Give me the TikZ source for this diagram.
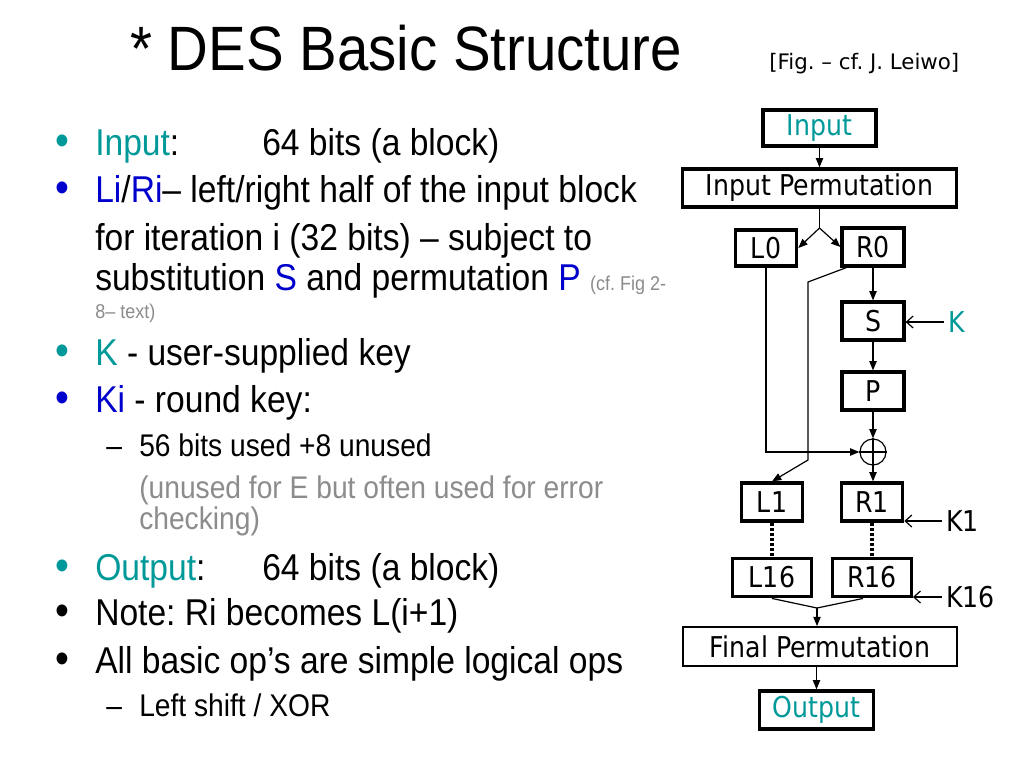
\documentclass[tikz,border=0pt]{standalone}
\usepackage{fontspec}
\setmainfont{Liberation Sans}[FakeStretch=0.9]
\newfontfamily\boxfont{DejaVu Sans}[FakeStretch=0.88]
\newfontfamily\citefont{DejaVu Sans}
\usepackage{tikz}
\usetikzlibrary{calc,arrows.meta}
\frenchspacing
\definecolor{bg}{HTML}{FFFFFF}
\definecolor{ink}{HTML}{000000}
\definecolor{tealc}{HTML}{009999}
\definecolor{bluec}{HTML}{0000CC}
\definecolor{grayc}{HTML}{8C8C8C}
\tikzset{
  box/.style={draw=ink, line width=2.4pt, inner sep=0pt, font=\boxfont\fontsize{21.5}{26}\selectfont},
  arr/.style={draw=ink, line width=0.9pt, -{Triangle[length=7pt,width=5.5pt]}},
  keyarr/.style={draw=ink, line width=0.9pt, -{Straight Barb[length=5pt,width=9pt]}},
  dots/.style={draw=ink, line width=2.8pt, dash pattern=on 2.2pt off 1.6pt},
  ln/.style={draw=ink, line width=0.9pt},
  body/.style={anchor=base west, inner sep=0pt, font=\fontsize{28}{34}\selectfont},
  sub/.style={anchor=base west, inner sep=0pt, font=\fontsize{23.5}{28}\selectfont},
  bul/.style={anchor=base west, inner sep=0pt, font=\fontsize{33}{38}\selectfont},
  keylab/.style={anchor=west, inner sep=3pt, text=ink, font=\boxfont\fontsize{21.5}{26}\selectfont},
}

\begin{document}
\begin{tikzpicture}[x=0.75pt,y=-0.75pt]
  \useasboundingbox (0,0) rectangle (1024,768);
  \fill[bg] (0,0) rectangle (1024,768);

  % title
  \node[anchor=base west, inner sep=0pt, font=\fontsize{47}{56}\selectfont] (title) at (130,70) {* DES Basic Structure};
  \node[anchor=base west, inner sep=0pt, font=\citefont\fontsize{16}{20}\selectfont] (cite) at (769,69) {[Fig. – cf. J. Leiwo]};

  % bullet text
  \node[bul, text=tealc] (b1) at (55,155) {\textbullet};
  \node[body] (t1) at (95,155) {\textcolor{tealc}{Input}:};
  \node[body] (t1v) at (262,155) {64 bits (a block)};
  \node[bul, text=bluec] (b2) at (55,202) {\textbullet};
  \node[body] (t2) at (95,202) {\textcolor{bluec}{Li}/\textcolor{bluec}{Ri}– left/right half of the input block};
  \node[body] (t3) at (95,250) {for iteration i (32 bits) – subject to};
  \node[body] (t4) at (95,290) {substitution \textcolor{bluec}{S} and permutation \textcolor{bluec}{P} {\fontsize{15}{18}\selectfont\color{grayc}(cf. Fig 2-}};
  \node[body, font=\fontsize{15}{18}\selectfont, text=grayc] (t5) at (95,318) {8– text)};
  \node[bul, text=tealc] (b3) at (55,365) {\textbullet};
  \node[body] (t6) at (95,365) {\textcolor{tealc}{K} - user-supplied key};
  \node[bul, text=bluec] (b4) at (55,412) {\textbullet};
  \node[body] (t7) at (95,412) {\textcolor{bluec}{Ki} - round key:};
  \node[sub] (d1) at (106,456) {–};
  \node[sub] (t8) at (139,456) {56 bits used +8 unused};
  \node[sub, text=grayc] (t9) at (139,498) {(unused for E but often used for error};
  \node[sub, text=grayc] (t10) at (139,529) {checking)};
  \node[bul, text=tealc] (b5) at (55,580) {\textbullet};
  \node[body] (t11) at (95,580) {\textcolor{tealc}{Output}:};
  \node[body] (t11v) at (262,580) {64 bits (a block)};
  \node[bul] (b6) at (55,625) {\textbullet};
  \node[body] (t12) at (95,625) {Note: Ri becomes L(i+1)};
  \node[bul] (b7) at (55,673) {\textbullet};
  \node[body] (t13) at (95,673) {All basic op’s are simple logical ops};
  \node[sub] (d2) at (106,716) {–};
  \node[sub] (t14) at (139,716) {Left shift / XOR};

  % boxes
  \node[box, minimum width=84.75pt, minimum height=27pt, text=tealc] (inp) at (819.5,128) {Input};
  \node[box, minimum width=206pt, minimum height=28.5pt] (ip) at (819.5,188) {Input Permutation};
  \node[box, minimum width=46pt, minimum height=27pt] (L0) at (766,248) {L0};
  \node[box, minimum width=46.5pt, minimum height=28.5pt] (R0) at (873,247) {R0};
  \node[box, minimum width=46.5pt, minimum height=28.5pt] (S) at (873,321) {S};
  \node[box, minimum width=46.5pt, minimum height=28.5pt] (P) at (873,391) {P};
  \node[circle, draw=ink, line width=0.9pt, minimum size=19.5pt, inner sep=0pt] (xor) at (873,452) {};
  \node[box, minimum width=46pt, minimum height=28.5pt] (L1) at (772,502) {L1};
  \node[box, minimum width=46pt, minimum height=28.5pt] (R1) at (872,502) {R1};
  \node[box, minimum width=59pt, minimum height=29pt] (L16) at (772,577.5) {L16};
  \node[box, minimum width=59pt, minimum height=29pt] (R16) at (872,577.5) {R16};
  \node[box, line width=1.6pt, minimum width=205.5pt, minimum height=29pt] (fp) at (820,646.5) {Final Permutation};
  \node[box, minimum width=85pt, minimum height=28.5pt, text=tealc] (out) at (816.5,710) {Output};

  % keys
  \node[keylab, text=tealc] (K) at (944,322) {K};
  \node[keylab] (K1) at (942,521) {K1};
  \node[keylab] (K16) at (942,597) {K16};

  \coordinate (split) at (819.5,228);
  \coordinate (c1) at (808,282);
  \coordinate (c2) at (808,460);
  \coordinate (mrg) at (817,608);

  % connectors
  \draw[arr] (inp) -- (ip);
  \draw[ln] (ip) -- (split);
  \draw[arr] (split) -- (L0.east);
  \draw[arr] (split) -- (R0.west);
  \draw[arr] (R0) -- (S);
  \draw[arr] (S) -- (P);
  \draw[arr] (P) -- (xor);
  \draw[ln] (xor.north) -- (xor.south) (xor.west) -- (xor.east);
  \draw[arr] (L0.south) |- (xor.west);
  \draw[arr] ($(R0.south west)+(6,0)$) -- (c1) -- (c2) -- (L1.north);
  \draw[arr] (xor.south) -- (xor.south |- R1.north);
  \draw[keyarr] (K.west) -- (K.west -| S.east);
  \draw[keyarr] (K1.west) -- (K1.west -| R1.east);
  \draw[keyarr] (K16.west) -- (K16.west -| R16.east);
  \draw[dots] (L1) -- (L16);
  \draw[dots] (R1) -- (R16);
  \draw[ln] (L16.south) -- (mrg);
  \draw[ln] ($(R16.south)+(-9,0)$) -- (mrg);
  \draw[arr] (mrg) -- (fp.north -| mrg);
  \draw[arr] (fp.south -| out) -- (out);
\end{tikzpicture}
\end{document}
